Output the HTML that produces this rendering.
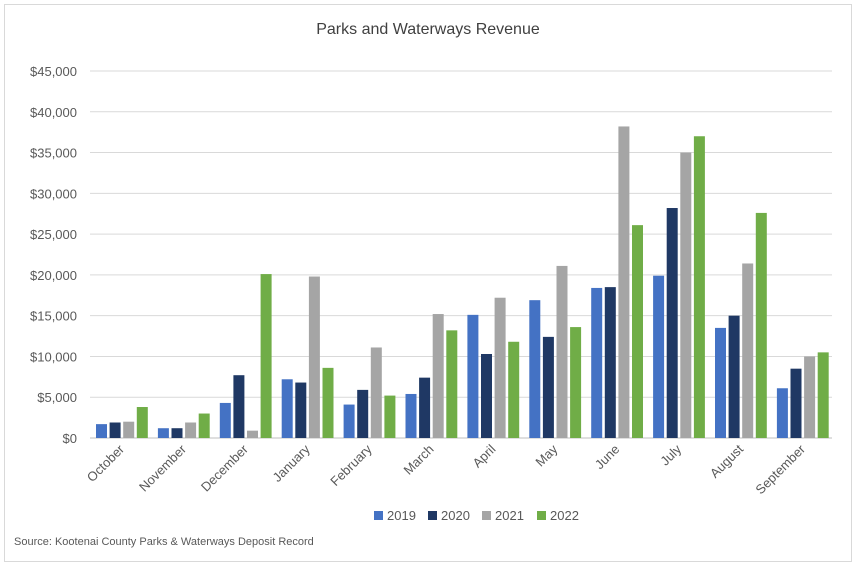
<!DOCTYPE html>
<html><head><style>body{margin:0;background:#fff}svg{display:block;font-family:"Liberation Sans",sans-serif}</style></head><body>
<svg width="856" height="566" viewBox="0 0 856 566">
<rect x="4.5" y="4.5" width="847" height="557" fill="#fff" stroke="#d9d9d9"/>
<text x="428" y="34" text-anchor="middle" font-size="16" fill="#404040">Parks and Waterways Revenue</text>
<g id="g"></g>
<text x="14" y="545" font-size="11" fill="#595959">Source:  Kootenai County Parks &amp; Waterways Deposit Record</text>
<g font-size="13" fill="#595959">
<rect x="374" y="511" width="9" height="9" fill="#4472C4"/><text x="387" y="520">2019</text>
<rect x="428" y="511" width="9" height="9" fill="#1F3864"/><text x="441" y="520">2020</text>
<rect x="482" y="511" width="9" height="9" fill="#A5A5A5"/><text x="495" y="520">2021</text>
<rect x="537" y="511" width="9" height="9" fill="#70AD47"/><text x="550" y="520">2022</text>
</g>
</svg>
<script>
const g=document.getElementById('g');let s='';
const y0=438,k=367/45000;
for(let i=0;i<=9;i++){const y=y0-i*5000*k;s+=`<line x1="90" x2="832" y1="${y}" y2="${y}" stroke="${i?'#d9d9d9':'#bfbfbf'}"/>`;
s+=`<text x="77" y="${y+5}" text-anchor="end" font-size="13" fill="#595959">$${(i*5000).toLocaleString('en-US')}</text>`;}
const m=['October','November','December','January','February','March','April','May','June','July','August','September'];
const d=[[1700,1900,2000,3800],[1200,1200,1900,3000],[4300,7700,900,20100],[7200,6800,19800,8600],[4100,5900,11100,5200],[5400,7400,15200,13200],[15100,10300,17200,11800],[16900,12400,21100,13600],[18400,18500,38200,26100],[19900,28200,35000,37000],[13500,15000,21400,27600],[6100,8500,10000,10500]];
const c=['#4472C4','#1F3864','#A5A5A5','#70AD47'];
m.forEach((n,i)=>{const gx=90+i*61.9;d[i].forEach((v,j)=>{const h=v*k;s+=`<rect x="${gx+6+j*13.6}" y="${y0-h}" width="11" height="${h}" fill="${c[j]}"/>`;});
const cx=gx+31;s+=`<text transform="translate(${cx+4},${450}) rotate(-45)" text-anchor="end" font-size="13" fill="#595959">${n}</text>`;});
g.innerHTML=s;
</script>
</body></html>
